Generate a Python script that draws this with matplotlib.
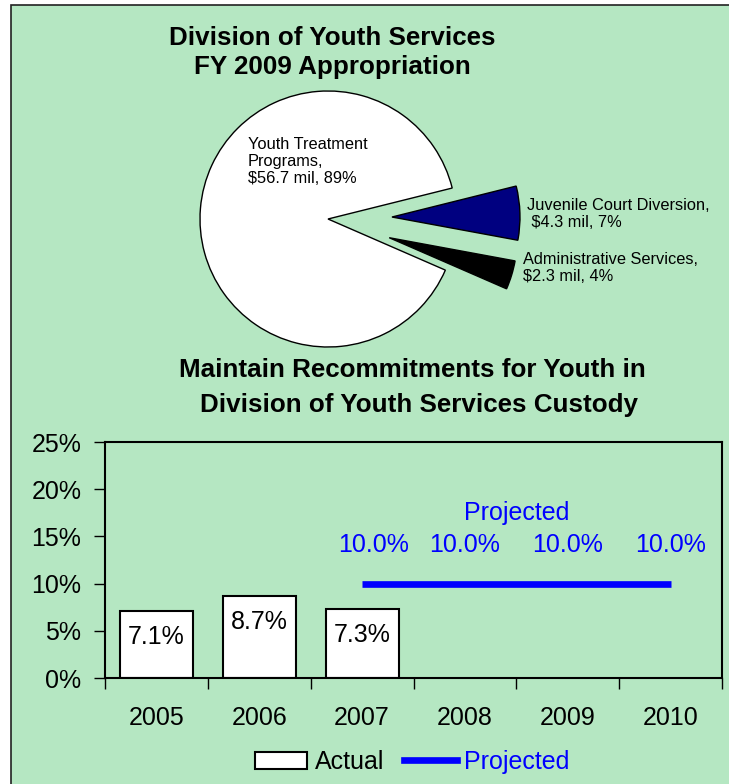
import matplotlib.pyplot as plt
from matplotlib.patches import Rectangle, Patch
from matplotlib.lines import Line2D

plt.rcParams["font.family"] = ["Liberation Sans", "DejaVu Sans"]

# pie data ($ mil)
pie_names = ["Youth Treatment\nPrograms,\n$56.7 mil, 89%",
             "Administrative Services,\n$2.3 mil, 4%",
             "Juvenile Court Diversion,\n $4.3 mil, 7%"]
pie_values = [56.7, 2.3, 4.3]
pie_colors = ["white", "black", "#000080"]

# recommitment data
years = ["2005", "2006", "2007", "2008", "2009", "2010"]
actual = [7.1, 8.7, 7.3]
projected_years = ["2007", "2008", "2009", "2010"]
projected = [10.0, 10.0, 10.0, 10.0]

GREEN = "#b5e7c2"
W, H = 729, 784

fig = plt.figure(figsize=(W / 100, H / 100), dpi=100, facecolor="white")

def fx(px):
    return px / W

def fy(py):
    return 1 - py / H

# green panel with frame (right and bottom edges run off the picture)
fig.patches.append(Rectangle((fx(11), -0.1), 1.2, fy(5) + 0.1,
                             transform=fig.transFigure,
                             facecolor=GREEN, edgecolor="#222222", linewidth=1.2,
                             zorder=-10))

# ---- pie ----
cx, cy, r = 328, 219, 128
top_px, bot_px = 60, 360
ax_pie = fig.add_axes([0, fy(bot_px), 1, (bot_px - top_px) / H])
wedges, _ = ax_pie.pie(pie_values, colors=pie_colors, startangle=14,
                       explode=[0, 0.5, 0.5],
                       wedgeprops=dict(edgecolor="black", linewidth=1))
ax_pie.set_aspect("auto")
ax_pie.set_xlim((0 - cx) / r, (W - cx) / r)
ax_pie.set_ylim(-(bot_px - cy) / r, (cy - top_px) / r)
ax_pie.axis("off")

fig.text(fx(248), fy(137), pie_names[0], fontsize=11.8, ha="left", va="top",
         linespacing=1.15)
fig.text(fx(527), fy(198), pie_names[2], fontsize=11.8, ha="left", va="top",
         linespacing=1.15)
fig.text(fx(523), fy(252), pie_names[1], fontsize=11.8, ha="left", va="top",
         linespacing=1.15)

fig.text(fx(332), fy(38), "Division of Youth Services", fontsize=18.7,
         fontweight="bold", ha="center", va="center")
fig.text(fx(332), fy(67), "FY 2009 Appropriation", fontsize=18.7,
         fontweight="bold", ha="center", va="center")
fig.text(fx(412), fy(370), "Maintain Recommitments for Youth in", fontsize=18.7,
         fontweight="bold", ha="center", va="center")
fig.text(fx(419), fy(405), "Division of Youth Services Custody", fontsize=18.7,
         fontweight="bold", ha="center", va="center")

# ---- bar / line chart ----
left, right, top, bottom = 105, 722, 442, 678
ax = fig.add_axes([fx(left), fy(bottom), (right - left) / W, (bottom - top) / H])
ax.set_facecolor(GREEN)
xpos = list(range(len(years)))
bars = ax.bar(xpos[:len(actual)], actual, width=0.71, color="white",
              edgecolor="black", linewidth=1.5, label="Actual", zorder=2)
for b, v in zip(bars, actual):
    ax.annotate(f"{v:.1f}%", (b.get_x() + b.get_width() / 2, v),
                xytext=(0, -19), textcoords="offset points",
                ha="center", va="center", fontsize=18)

px = [years.index(y) for y in projected_years]
ax.plot(px, projected, color="blue", linewidth=4.8, label="Projected",
        solid_capstyle="butt", zorder=3)
for i, (x, v) in enumerate(zip(px, projected)):
    ax.annotate(f"{v:.1f}%", (x, v), xytext=(8 if i == 0 else 0, 28),
                textcoords="offset points", ha="center", va="center",
                fontsize=18, color="blue")
ax.annotate("Projected", (3.5, 10.0), xytext=(0, 51), textcoords="offset points",
            ha="center", va="center", fontsize=18, color="blue")

ax.set_xlim(-0.5, len(years) - 0.5)
ax.set_ylim(0, 25)
ax.set_yticks([0, 5, 10, 15, 20, 25])
ax.set_yticklabels([f"{t}%" for t in [0, 5, 10, 15, 20, 25]])
ax.set_xticks(xpos)
ax.set_xticklabels(years)
ax.set_xticks([x - 0.5 for x in range(len(years) + 1)], minor=True)
ax.tick_params(axis="x", which="major", length=0, pad=20, labelsize=18)
ax.tick_params(axis="x", which="minor", length=8, width=1, direction="out")
ax.tick_params(axis="y", length=8, width=1, direction="out", pad=9, labelsize=18)
for s in ax.spines.values():
    s.set_linewidth(1.5)

handles = [Patch(facecolor="white", edgecolor="black", linewidth=1.5),
           Line2D([0], [0], color="blue", linewidth=4.8)]
leg = fig.legend(handles, ["Actual", "Projected"], loc="center",
                 bbox_to_anchor=(fx(412), fy(762)), ncol=2, frameon=False,
                 fontsize=18, handlelength=2.1, handletextpad=0.3,
                 columnspacing=0.8)
leg.get_texts()[1].set_color("blue")

fig.savefig("out.png", dpi=100, facecolor="white")
